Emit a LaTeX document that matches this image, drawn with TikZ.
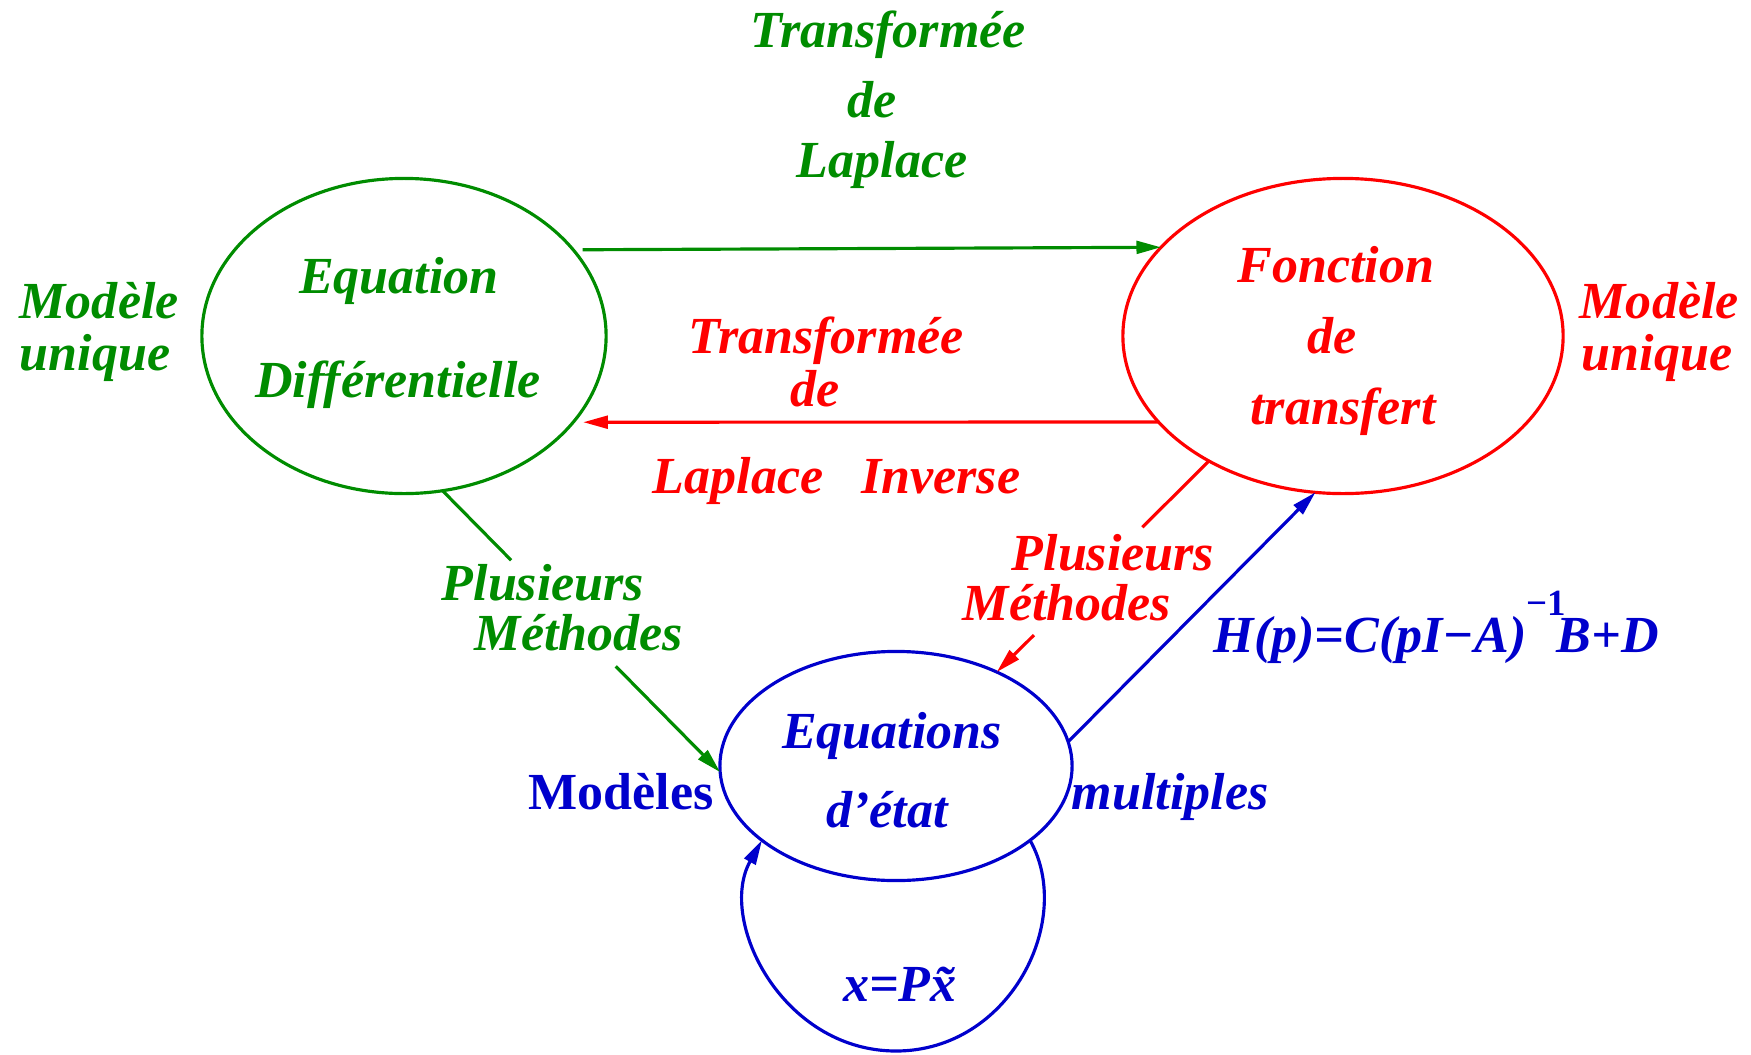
\documentclass[tikz,border=0pt]{standalone}
\usepackage{fontspec}
\setmainfont{Liberation Serif}
\usetikzlibrary{shapes.geometric,arrows.meta,calc}
\definecolor{vert}{RGB}{0,140,0}
\definecolor{rouge}{RGB}{255,0,0}
\definecolor{bleu}{RGB}{0,0,204}
\begin{document}
\begin{tikzpicture}[x=0.01cm,y=-0.01cm,
  ell/.style={ellipse,draw,line width=0.9pt,inner sep=0pt,outer sep=0pt},
  txt/.style={font=\fontsize{14.8}{17}\selectfont\bfseries\itshape,inner sep=0pt,anchor=base},
  txtup/.style={font=\fontsize{14.8}{17}\selectfont\bfseries\upshape,inner sep=0pt,anchor=base},
  con/.style={line width=0.9pt},
  arr/.style={con,-{Triangle[length=7pt,width=3.6pt]}}]
\useasboundingbox (0,0) rectangle (1751,1054);
% ellipses
\node[ell,vert,minimum width=4.04cm,minimum height=3.15cm] (gr) at (404,336) {};
\node[ell,rouge,minimum width=4.40cm,minimum height=3.15cm] (rd) at (1343,336) {};
\node[ell,bleu,minimum width=3.52cm,minimum height=2.29cm] (bl) at (896,766) {};
% green texts
\node[txt,vert] (tl1) at (888,47) {Transformée};
\node[txt,vert] (tl2) at (872,117) {de};
\node[txt,vert] (tl3) at (882,177) {Laplace};
\node[txt,vert] (eq1) at (399,293) {Equation};
\node[txt,vert] (eq2) at (398,397) {Différentielle};
\node[txt,vert,anchor=base west] (mu1) at (19,318) {Modèle};
\node[txt,vert,anchor=base west] (mu2) at (19,370) {unique};
\node[txt,vert] (pm1) at (543,600) {Plusieurs};
\node[txt,vert] (pm2) at (579,650) {Méthodes};
% red texts
\node[txt,rouge] (ti1) at (826,353) {Transformée};
\node[txt,rouge] (ti2) at (815,406) {de};
\node[txt,rouge,anchor=base west] (ti3) at (652,493) {Laplace\hspace{0.38cm}Inverse};
\node[txt,rouge] (fo1) at (1336,282) {Fonction};
\node[txt,rouge] (fo2) at (1332,353) {de};
\node[txt,rouge] (fo3) at (1343,424) {transfert};
\node[txt,rouge,anchor=base west] (mr1) at (1579,318) {Modèle};
\node[txt,rouge,anchor=base west] (mr2) at (1581,370) {unique};
\node[txt,rouge] (rp1) at (1113,570) {Plusieurs};
\node[txt,rouge] (rp2) at (1067,620) {Méthodes};
% blue texts
\node[txt,bleu,anchor=base west] (hp) at (1213,652) {H(p)=C(pI−A)\raisebox{0.36cm}{\fontsize{10.5}{10}\selectfont\upshape −1}\kern-0.09cm B+D};
\node[txt,bleu] (es1) at (892,748) {Equations};
\node[txt,bleu] (es2) at (887,827) {d’état};
\node[txtup,bleu] (mo) at (621,809) {Modèles};
\node[txt,bleu] (mp) at (1170,809) {multiples};
\node[txt,bleu] (xp) at (900,1001) {x=P\~{x}};
% connectors
\draw[arr,vert,shorten <=0.095cm] (gr.27.72) -- (rd.154.24);
\draw[arr,rouge,shorten >=0.1cm] (rd.205.76) -- (gr.-27.72);
\coordinate (ga) at (gr.-76.5);
\coordinate (gb) at (bl.182.3);
\draw[con,vert] (ga) -- ($(ga)!0.247!(gb)$);
\draw[arr,vert] ($(ga)!0.624!(gb)$) -- (gb);
\coordinate (ra) at (rd.223);
\coordinate (rb) at (bl.43);
\draw[con,rouge] (ra) -- ($(ra)!0.314!(rb)$);
\draw[arr,rouge] ($(ra)!0.825!(rb)$) -- (rb);
\draw[arr,bleu] (bl.8.5) -- (rd.260);
\draw[arr,bleu] (bl.-29.6) .. controls (1075,920) and (1010,1051) .. (896,1051) .. controls (782,1051) and (717,920) .. (bl.-151.3);
\end{tikzpicture}
\end{document}
